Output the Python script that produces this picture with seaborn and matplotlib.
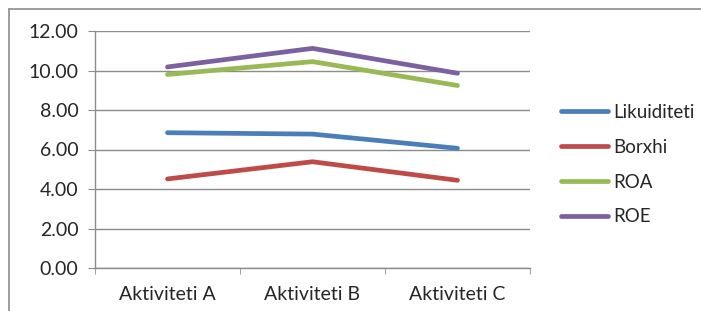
import numpy as np
import pandas as pd
import matplotlib
matplotlib.use('Agg')
import matplotlib.pyplot as plt
import seaborn as sns

categories = ['Aktiviteti A', 'Aktiviteti B', 'Aktiviteti C']
likuiditeti = [6.85, 6.78, 6.06]
borxhi = [4.51, 5.38, 4.44]
roa = [9.80, 10.45, 9.24]
roe = [10.18, 11.12, 9.86]
series_names = ['Likuiditeti', 'Borxhi', 'ROA', 'ROE']
colors = ['#4a7ebb', '#be4b48', '#98b954', '#7d60a0']

df = pd.DataFrame({
    'Aktiviteti': categories * 4,
    'Seria': np.repeat(series_names, 3),
    'Vlera': likuiditeti + borxhi + roa + roe,
})

sns.set_style('white')
plt.rcParams['font.family'] = ['Lato', 'DejaVu Sans']
grey = '#8c8c8c'
fs = 14

fig = plt.figure(figsize=(7.01, 3.11), dpi=100)
ax = fig.add_axes([95 / 701, 1 - 268 / 311, 435 / 701, 237 / 311])

sns.lineplot(data=df, x='Aktiviteti', y='Vlera', hue='Seria',
             palette=colors, linewidth=3.4, sort=False, ax=ax,
             solid_capstyle='round', legend=False)

ax.set_xlim(-0.5, 2.5)
ax.set_ylim(0, 12)
ax.set_yticks(np.arange(0, 13, 2))
ax.set_yticklabels([f'{v:.2f}' for v in np.arange(0, 13, 2)], fontsize=fs)
ax.set_xticks(range(3))
ax.set_xticklabels(categories, fontsize=fs)
ax.set_xticks([-0.5, 0.5, 1.5, 2.5], minor=True)
ax.set_xlabel('')
ax.set_ylabel('')
ax.grid(axis='y', color=grey, linewidth=1)
ax.set_axisbelow(True)
for side in ['top', 'right']:
    ax.spines[side].set_visible(False)
for side in ['left', 'bottom']:
    ax.spines[side].set_color(grey)
    ax.spines[side].set_linewidth(1)
ax.tick_params(axis='y', length=5, color=grey, left=True, pad=7)
ax.tick_params(axis='x', which='major', length=0, pad=13)
ax.tick_params(axis='x', which='minor', length=4, color=grey, bottom=True)

handles = [plt.Line2D([0], [0], color=c, linewidth=3.4, solid_capstyle='round')
           for c in colors]
fig.legend(handles, series_names, loc='upper left',
           bbox_to_anchor=(561 / 701, 1 - 104 / 311), frameon=False,
           fontsize=13.5, handlelength=2.5, labelspacing=0.95,
           handletextpad=0.27, borderpad=0, borderaxespad=0)

# outer chart border (only top and left edges fall inside the picture)
fig.add_artist(plt.Line2D([9 / 701, 1], [1 - 9 / 311, 1 - 9 / 311],
                          transform=fig.transFigure, color=grey, linewidth=1.2))
fig.add_artist(plt.Line2D([9 / 701, 9 / 701], [0, 1 - 9 / 311],
                          transform=fig.transFigure, color=grey, linewidth=1.2))

fig.savefig('out.png', dpi=100)
plt.close(fig)
